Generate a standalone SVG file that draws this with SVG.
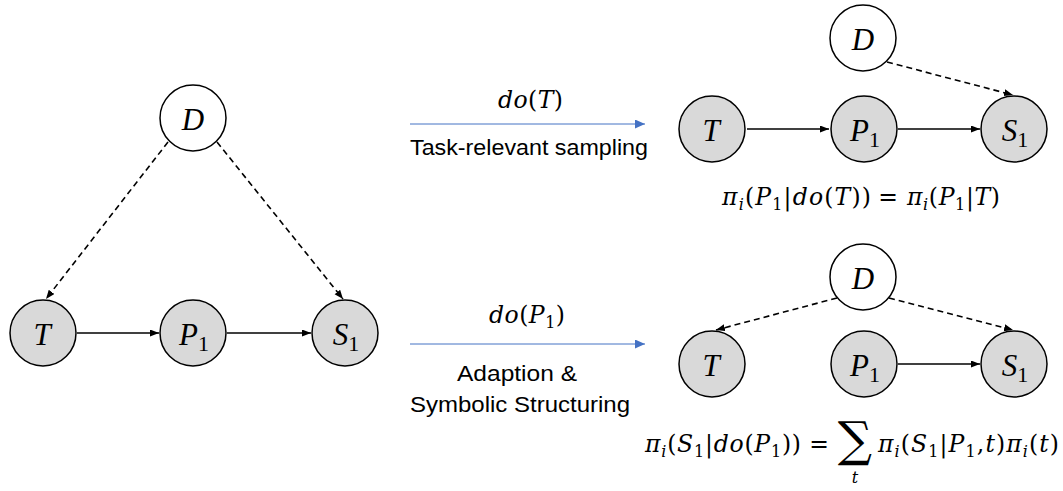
<svg xmlns="http://www.w3.org/2000/svg" width="1063" height="491" viewBox="0 0 1063 491">
<style>
.node circle{stroke:#000;stroke-width:1.5;fill:#D9D9D9}
.node circle.w{fill:#fff}
.lbl{font-family:"Liberation Serif",serif;font-style:italic;font-size:31px;text-anchor:middle;fill:#000}
.lbl .s{font-style:normal;font-size:22px}
.m{font-family:"DejaVu Serif",serif;font-size:23.5px;fill:#000}
.m .i{font-style:italic}
.m .s{font-size:16px}
.t{font-family:"Liberation Sans",Arial,sans-serif;font-size:22px;fill:#000;text-anchor:middle}
.sol{stroke:#000;stroke-width:1.5;fill:none}
.dash{stroke:#000;stroke-width:1.6;fill:none;stroke-dasharray:6 4}
.blue{stroke:#4472C4;stroke-width:1;fill:none}
</style>
<defs>
<marker id="ah" markerUnits="userSpaceOnUse" markerWidth="10" markerHeight="8" refX="9" refY="3.5" orient="auto"><path d="M0,0 L9,3.5 L0,7 z" fill="#000"/></marker>
<marker id="ab" markerUnits="userSpaceOnUse" markerWidth="12" markerHeight="10" refX="10" refY="4.5" orient="auto"><path d="M0,0 L10,4.5 L0,9 z" fill="#4472C4"/></marker>
</defs>
<rect width="1063" height="491" fill="#fff"/>

<g id="connectors">
<line class="sol" x1="77" y1="333" x2="159" y2="333" marker-end="url(#ah)"/>
<line class="sol" x1="227" y1="333" x2="311" y2="333" marker-end="url(#ah)"/>
<line class="dash" x1="168" y1="142" x2="46" y2="299" marker-end="url(#ah)"/>
<line class="dash" x1="217" y1="142" x2="343" y2="299" marker-end="url(#ah)"/>
<line class="blue" x1="410" y1="124" x2="645" y2="124" marker-end="url(#ab)"/>
<line class="blue" x1="410" y1="344" x2="645" y2="344" marker-end="url(#ab)"/>
<line class="sol" x1="747" y1="129" x2="829" y2="129" marker-end="url(#ah)"/>
<line class="sol" x1="898" y1="129" x2="980" y2="129" marker-end="url(#ah)"/>
<line class="dash" x1="887" y1="62" x2="1013" y2="95" marker-end="url(#ah)"/>
<line class="dash" x1="837" y1="298" x2="716" y2="330" marker-end="url(#ah)"/>
<line class="dash" x1="889" y1="298" x2="1013" y2="330" marker-end="url(#ah)"/>
<line class="sol" x1="898" y1="364" x2="980" y2="364" marker-end="url(#ah)"/>
</g>

<g id="L-D" class="node"><circle class="w" cx="193" cy="118" r="33"/><text class="lbl" x="193" y="130">D</text></g>
<g id="L-T" class="node"><circle cx="43" cy="333" r="33"/><text class="lbl" x="42" y="345">T</text></g>
<g id="L-P1" class="node"><circle cx="193" cy="333" r="33"/><text class="lbl" x="194" y="345">P<tspan class="s" dy="6">1</tspan></text></g>
<g id="L-S1" class="node"><circle cx="345" cy="333" r="33"/><text class="lbl" x="346" y="345">S<tspan class="s" dy="6">1</tspan></text></g>

<g id="A-D" class="node"><circle class="w" cx="863" cy="38" r="33"/><text class="lbl" x="863" y="50">D</text></g>
<g id="A-T" class="node"><circle cx="712" cy="129" r="33"/><text class="lbl" x="711" y="141">T</text></g>
<g id="A-P1" class="node"><circle cx="864" cy="129" r="33"/><text class="lbl" x="865" y="141">P<tspan class="s" dy="6">1</tspan></text></g>
<g id="A-S1" class="node"><circle cx="1014" cy="129" r="33"/><text class="lbl" x="1015" y="141">S<tspan class="s" dy="6">1</tspan></text></g>

<g id="B-D" class="node"><circle class="w" cx="863" cy="277" r="33"/><text class="lbl" x="863" y="289">D</text></g>
<g id="B-T" class="node"><circle cx="712" cy="364" r="33"/><text class="lbl" x="711" y="376">T</text></g>
<g id="B-P1" class="node"><circle cx="864" cy="364" r="33"/><text class="lbl" x="865" y="376">P<tspan class="s" dy="6">1</tspan></text></g>
<g id="B-S1" class="node"><circle cx="1014" cy="364" r="33"/><text class="lbl" x="1015" y="376">S<tspan class="s" dy="6">1</tspan></text></g>

<g id="labels">
<text class="m" x="498" y="108" textLength="65" lengthAdjust="spacing"><tspan class="i">do</tspan>(<tspan class="i">T</tspan>)</text>
<text class="t" x="529" y="155" textLength="238" lengthAdjust="spacingAndGlyphs">Task-relevant sampling</text>
<text class="m" x="489" y="323" textLength="76" lengthAdjust="spacing"><tspan class="i">do</tspan>(<tspan class="i">P</tspan><tspan class="s" dy="5">1</tspan><tspan dy="-5">)</tspan></text>
<text class="t" x="517" y="381" textLength="120" lengthAdjust="spacingAndGlyphs">Adaption &amp;</text>
<text class="t" x="520" y="412" textLength="220" lengthAdjust="spacingAndGlyphs">Symbolic Structuring</text>

<text class="m" x="722" y="205" textLength="149" lengthAdjust="spacing"><tspan class="i">π</tspan><tspan class="s i" dy="5">i</tspan><tspan dy="-5">(</tspan><tspan class="i">P</tspan><tspan class="s" dy="5">1</tspan><tspan dy="-5">|</tspan><tspan class="i">do</tspan>(<tspan class="i">T</tspan>))</text>
<text class="m" x="888" y="205" text-anchor="middle">=</text>
<text class="m" x="907" y="205" textLength="93" lengthAdjust="spacing"><tspan class="i">π</tspan><tspan class="s i" dy="5">i</tspan><tspan dy="-5">(</tspan><tspan class="i">P</tspan><tspan class="s" dy="5">1</tspan><tspan dy="-5">|</tspan><tspan class="i">T</tspan>)</text>

<text class="m" x="645" y="452" textLength="156" lengthAdjust="spacing"><tspan class="i">π</tspan><tspan class="s i" dy="5">i</tspan><tspan dy="-5">(</tspan><tspan class="i">S</tspan><tspan class="s" dy="5">1</tspan><tspan dy="-5">|</tspan><tspan class="i">do</tspan>(<tspan class="i">P</tspan><tspan class="s" dy="5">1</tspan><tspan dy="-5">))</tspan></text>
<text class="m" x="819" y="452" text-anchor="middle">=</text>
<text x="855" y="456" font-family="DejaVu Serif,serif" font-size="48" text-anchor="middle">∑</text>
<text class="m" x="855" y="483" text-anchor="middle"><tspan class="s i">t</tspan></text>
<text class="m" x="878" y="452" textLength="181" lengthAdjust="spacing"><tspan class="i">π</tspan><tspan class="s i" dy="5">i</tspan><tspan dy="-5">(</tspan><tspan class="i">S</tspan><tspan class="s" dy="5">1</tspan><tspan dy="-5">|</tspan><tspan class="i">P</tspan><tspan class="s" dy="5">1</tspan><tspan dy="-5">,</tspan><tspan class="i">t</tspan>)<tspan class="i">π</tspan><tspan class="s i" dy="5">i</tspan><tspan dy="-5">(</tspan><tspan class="i">t</tspan>)</text>
</g>
</svg>
